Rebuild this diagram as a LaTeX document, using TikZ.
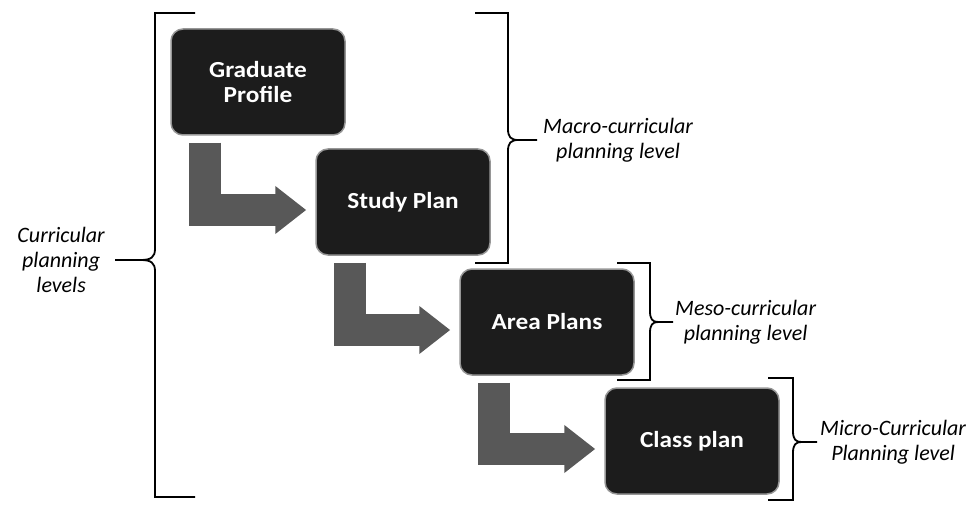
\documentclass[tikz,border=0pt]{standalone}
\usepackage{fontspec}
\setmainfont{Carlito}
\newfontfamily\boxfont[FakeStretch=1.1]{Carlito}
\usepackage{tikz}
\usetikzlibrary{calc, arrows.meta, positioning}
\tikzset{
    levelnode/.style = {draw=boxedge, line width=1.5pt, fill=boxfill, rectangle, rounded corners=12pt,
      minimum width=174pt, minimum height=106pt, inner sep=0pt, node distance=0em,
      text=white, font=\boxfont\bfseries\fontsize{23}{25}\selectfont, align=center},
    labelnode/.style = {draw=none, fill=none, rectangle, inner sep=0pt, align=center,
      font=\itshape\fontsize{22}{25}\selectfont},
    steparrow/.style = {arrowgray, line width=32pt, line join=miter,
      -{Triangle[length=31pt, width=46pt]}},
    bracket/.style = {black, line width=1.8pt}
}
\definecolor{boxfill}{RGB}{28, 28, 28}
\definecolor{boxedge}{RGB}{150, 150, 150}
\definecolor{arrowgray}{RGB}{88, 88, 88}
\newcommand{\levelbrace}[7]{%
  \draw[bracket] ({#1+#5},#2) -- (#1,#2) -- (#1,{#4+11})
    .. controls (#1,{#4+3}) and ({#1+0.1*#6},#4) .. ({#1+0.35*#6},#4) -- ({#1+#6},#4);
  \draw[bracket] ({#1+#5},#3) -- (#1,#3) -- (#1,{#4-11})
    .. controls (#1,{#4-3}) and ({#1+0.1*#6},#4) .. ({#1+0.35*#6},#4);
  \coordinate (#7) at ({#1+#6},#4);
}

\begin{document}
\begin{tikzpicture}[x=1pt, y=1pt]
\useasboundingbox (0,0) rectangle (975,507);

\node[levelnode, name=gp] at (258,425) {Graduate\\Profile};
\node[levelnode, name=sp, right of = gp, xshift=145pt, yshift=-120pt] {Study Plan};
\node[levelnode, name=ap, right of = sp, xshift=144pt, yshift=-120pt] {Area Plans};
\node[levelnode, name=cp, right of = ap, xshift=145pt, yshift=-119pt] {Class plan};

\draw[steparrow] ($(gp.south west)+(35,-7)$) |- ($(sp.west)+(-9,-8)$);
\draw[steparrow] ($(sp.south west)+(35,-7)$) |- ($(ap.west)+(-9,-8)$);
\draw[steparrow] ($(ap.south west)+(35,-7)$) |- ($(cp.west)+(-9,-8)$);

\levelbrace{155}{494}{10}{247}{40}{-40}{curtip}
\levelbrace{508}{494}{244}{367}{-33}{29}{macrotip}
\levelbrace{650}{244}{127}{185}{-33}{23}{mesotip}
\levelbrace{793}{129}{7}{65}{-25}{24}{microtip}

\node[labelnode, name=curlbl, left=10pt of curtip] {Curricular\\planning\\levels};
\node[labelnode, name=macrolbl, right=6pt of macrotip] {Macro-curricular\\planning level};
\node[labelnode, name=mesolbl, right=2pt of mesotip] {Meso-curricular\\planning level};
\node[labelnode, name=microlbl, right=3pt of microtip] {Micro-Curricular\\Planning level};
\end{tikzpicture}
\end{document}
